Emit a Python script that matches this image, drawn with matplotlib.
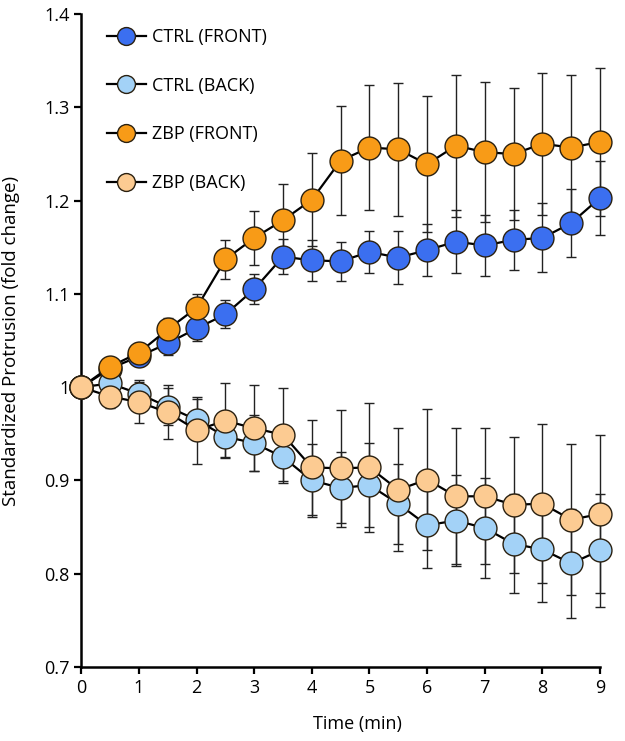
import matplotlib.pyplot as plt

plt.rcParams['font.family'] = ['Open Sans', 'DejaVu Sans']

time = [0, 0.5, 1, 1.5, 2, 2.5, 3, 3.5, 4, 4.5, 5, 5.5, 6, 6.5, 7, 7.5, 8, 8.5, 9]

ctrl_front = [1.0, 1.02, 1.033, 1.047, 1.063, 1.078, 1.105, 1.14, 1.136, 1.135, 1.145, 1.139, 1.147,
              1.156, 1.152, 1.158, 1.16, 1.176, 1.203]
ctrl_front_err = [0, 0.006, 0.01, 0.012, 0.014, 0.015, 0.016, 0.019, 0.022, 0.021, 0.023, 0.028, 0.028,
                  0.034, 0.033, 0.032, 0.037, 0.036, 0.04]

ctrl_back = [1.0, 1.004, 0.993, 0.979, 0.965, 0.947, 0.94, 0.925, 0.9, 0.892, 0.895, 0.875, 0.852,
             0.857, 0.849, 0.832, 0.826, 0.811, 0.825]
ctrl_back_err = [0, 0.01, 0.015, 0.02, 0.022, 0.022, 0.03, 0.028, 0.039, 0.038, 0.045, 0.043, 0.046,
                 0.049, 0.054, 0.053, 0.056, 0.058, 0.061]

zbp_front = [1.0, 1.022, 1.037, 1.062, 1.085, 1.137, 1.16, 1.179, 1.201, 1.243, 1.257, 1.255, 1.239,
             1.259, 1.252, 1.25, 1.261, 1.257, 1.263]
zbp_front_err = [0, 0.008, 0.01, 0.012, 0.015, 0.021, 0.029, 0.039, 0.05, 0.058, 0.067, 0.071, 0.073,
                 0.076, 0.075, 0.071, 0.076, 0.078, 0.079]

zbp_back = [1.0, 0.99, 0.984, 0.973, 0.954, 0.964, 0.956, 0.949, 0.914, 0.913, 0.914, 0.89, 0.901,
            0.883, 0.883, 0.874, 0.875, 0.858, 0.864]
zbp_back_err = [0, 0.012, 0.022, 0.029, 0.036, 0.04, 0.046, 0.05, 0.051, 0.063, 0.069, 0.066, 0.076,
                0.073, 0.073, 0.073, 0.085, 0.081, 0.085]

series = [
    ('CTRL (FRONT)', ctrl_front, ctrl_front_err, '#3b6ff0'),
    ('CTRL (BACK)', ctrl_back, ctrl_back_err, '#a3d2f7'),
    ('ZBP (FRONT)', zbp_front, zbp_front_err, '#f89b17'),
    ('ZBP (BACK)', zbp_back, zbp_back_err, '#fccb92'),
]

yticks = [0.7, 0.8, 0.9, 1.0, 1.1, 1.2, 1.3, 1.4]
ytick_labels = ['0.7', '0.8', '0.9', '1', '1.1', '1.2', '1.3', '1.4']
xticks = list(range(10))

fig = plt.figure(figsize=(6.25, 7.41), dpi=100)
ax = fig.add_axes([0.13, 0.0999, 0.83, 0.881])

for label, vals, err, col in series:
    ax.errorbar(time, vals, yerr=err, fmt='none', ecolor='#222222', elinewidth=1.0,
                capsize=3.6, capthick=1.0, zorder=1, clip_on=False)

for i, (label, vals, err, col) in enumerate(series):
    ax.plot(time, vals, '-o', color='black', lw=1.6, markersize=16.5,
            markerfacecolor=col, markeredgecolor='#2a2010', markeredgewidth=1.0,
            label=label, zorder=3 + i, clip_on=False)

ax.set_xlim(0, 9)
ax.set_ylim(0.7, 1.4)
ax.set_xticks(xticks)
ax.set_yticks(yticks)
ax.set_yticklabels(ytick_labels)
ax.tick_params(direction='out', length=5, width=1.6, labelsize=13)
for s in ['top', 'right']:
    ax.spines[s].set_visible(False)
for s in ['left', 'bottom']:
    ax.spines[s].set_linewidth(1.8)

ax.set_xlabel('Time (min)', fontsize=13)
ax.xaxis.set_label_coords(0.533, -0.074)
ax.set_ylabel('Standardized Protrusion (fold change)', fontsize=13.5)
ax.yaxis.set_label_coords(-0.118, 0.5)

ax.legend(loc='upper left', bbox_to_anchor=(0.035, 0.99), frameon=False, fontsize=13,
          markerscale=0.78, handlelength=2.2, handletextpad=0.3, labelspacing=1.7,
          borderaxespad=0)

fig.savefig('out.png', dpi=100)
